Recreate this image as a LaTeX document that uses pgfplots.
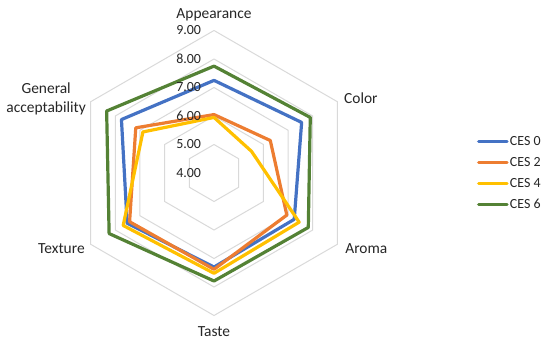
\documentclass[border=0pt]{standalone}
\usepackage{fontspec}
\setmainfont{Carlito}
\usepackage{pgfplots}
\usepackage{pgfplotstable}
\pgfplotsset{compat=1.18}
\definecolor{c0}{HTML}{4472C4}
\definecolor{c2}{HTML}{ED7D31}
\definecolor{c4}{HTML}{FFC000}
\definecolor{c6}{HTML}{548235}
\definecolor{gridc}{HTML}{D9D9D9}
\definecolor{txt}{HTML}{262626}
% categories: Appearance(90) Color(30) Aroma(-30) Taste(-90) Texture(-150) General acceptability(150)
\pgfplotstableread{
angle s0 s2 s4 s6
90 7.25 6.05 5.95 7.75
30 7.55 6.28 5.52 7.90
-30 7.25 6.95 7.45 7.82
-90 7.30 7.38 7.52 7.79
-150 7.52 7.42 7.68 8.25
150 7.75 7.17 6.88 8.35
90 7.25 6.05 5.95 7.75
}\radar
\begin{document}
\begin{tikzpicture}
\begin{axis}[
  x=28.5bp, y=28.5bp,
  xmin=-7.509, xmax=11.789, ymin=-6.035, ymax=6.070,
  hide axis, clip=false,
  legend style={at={(axis cs:9.22,0)}, anchor=west, draw=none, fill=none,
    inner sep=0pt, font=\fontsize{14}{16}\selectfont\color{txt},
    row sep=8bp, nodes={inner sep=1.2bp}},
  legend cell align=left,
  legend image code/.code={\draw[#1, line width=3.2bp, line cap=round] (1.5bp,0bp) -- (30bp,0bp);},
]
\draw[draw=none] (rel axis cs:0,0) rectangle (rel axis cs:1,1);
\pgfplotsinvokeforeach{5,6,7,8,9}{
  \addplot[gridc, line width=1bp, forget plot] table[
    x expr={(#1-4)*cos(\thisrow{angle})},
    y expr={(#1-4)*sin(\thisrow{angle})}] {\radar};
}
\addplot[c0, line width=3.2bp, line join=round, line cap=round] table[
  x expr={(\thisrow{s0}-4)*cos(\thisrow{angle})},
  y expr={(\thisrow{s0}-4)*sin(\thisrow{angle})}] {\radar};
\addplot[c2, line width=3.2bp, line join=round, line cap=round] table[
  x expr={(\thisrow{s2}-4)*cos(\thisrow{angle})},
  y expr={(\thisrow{s2}-4)*sin(\thisrow{angle})}] {\radar};
\addplot[c4, line width=3.2bp, line join=round, line cap=round] table[
  x expr={(\thisrow{s4}-4)*cos(\thisrow{angle})},
  y expr={(\thisrow{s4}-4)*sin(\thisrow{angle})}] {\radar};
\addplot[c6, line width=3.2bp, line join=round, line cap=round] table[
  x expr={(\thisrow{s6}-4)*cos(\thisrow{angle})},
  y expr={(\thisrow{s6}-4)*sin(\thisrow{angle})}] {\radar};
\legend{CES 0, CES 2, CES 4, CES 6}
\pgfplotsinvokeforeach{4,5,6,7,8,9}{
  \node[anchor=east, inner sep=0pt, text=txt, font=\fontsize{14}{16}\selectfont]
    at (axis cs:-0.45,#1-4) {#1.00};
}
\begin{scope}[every node/.style={inner sep=0pt, text=txt, font=\fontsize{15.5}{18.5}\selectfont}]
\node at (axis cs:0,5.54) {Appearance};
\node[anchor=west] at (axis cs:4.56,2.63) {Color};
\node[anchor=west] at (axis cs:4.60,-2.64) {Aroma};
\node at (axis cs:0,-5.58) {Taste};
\node[anchor=east] at (axis cs:-4.53,-2.64) {Texture};
\node[align=center] at (axis cs:-5.89,2.60) {General\\acceptability};
\end{scope}
\end{axis}
\end{tikzpicture}
\end{document}
